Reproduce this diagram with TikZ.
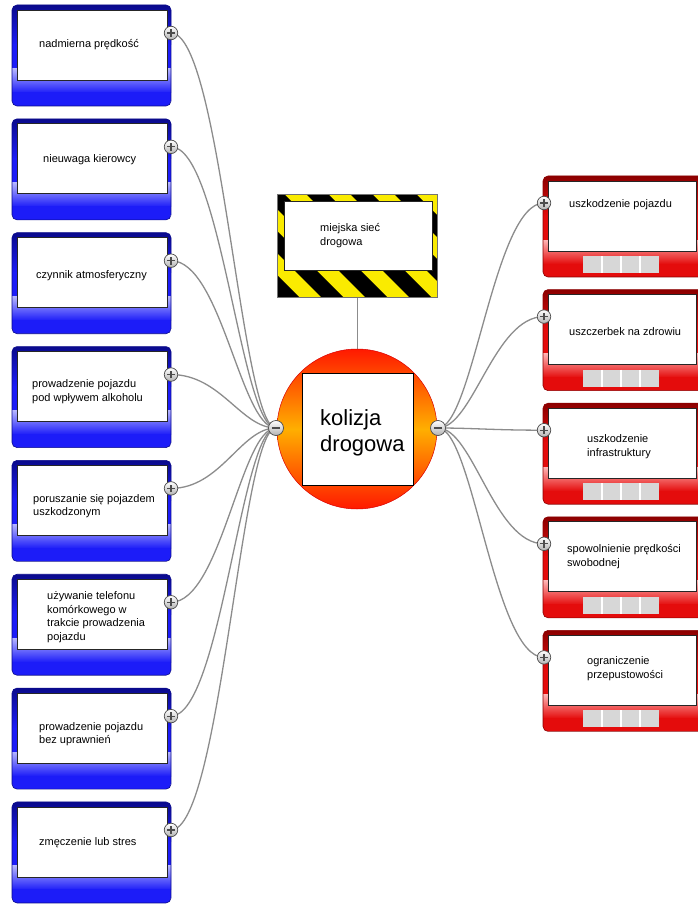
\documentclass[tikz,border=0pt]{standalone}
\usepackage{fontspec}
\setmainfont{Liberation Sans}
\pgfdeclarelayer{bg}
\pgfsetlayers{bg,main}
\definecolor{bluebox}{RGB}{28,28,248}
\definecolor{bluedark}{RGB}{10,10,140}
\definecolor{redbox}{RGB}{228,12,12}
\definecolor{reddark}{RGB}{140,0,0}
\definecolor{conn}{RGB}{140,140,140}
\definecolor{hazyellow}{RGB}{250,235,0}
\definecolor{hubred}{RGB}{255,25,0}
\definecolor{hubmid}{RGB}{255,175,0}
\definecolor{cellgray}{RGB}{215,215,215}
\tikzset{
  whitebox/.style={draw=black!85, line width=0.9pt, fill=white, inner sep=0pt, minimum height=70},
  txt/.style={font=\fontsize{11}{13.5}\selectfont, align=left, inner sep=0pt, anchor=west},
  iconbase/.style={circle, draw=black!70, line width=0.7pt, top color=white, bottom color=black!30, minimum size=13.5, inner sep=0pt},
  plusicon/.style={iconbase, path picture={
      \draw[line width=1.2pt] ([xshift=-3.8pt]path picture bounding box.center) -- ([xshift=3.8pt]path picture bounding box.center);
      \draw[line width=1.2pt] ([yshift=-3.8pt]path picture bounding box.center) -- ([yshift=3.8pt]path picture bounding box.center);}},
  minusicon/.style={iconbase, minimum size=15, path picture={
      \draw[line width=1.3pt] ([xshift=-4.2pt]path picture bounding box.center) -- ([xshift=4.2pt]path picture bounding box.center);}},
  connector/.style={draw=conn, line width=1.3pt},
}
\newcommand\causebox[2]{%
  \begin{scope}
    \clip[rounded corners=5pt] (12,#2) rectangle (171,#2+101);
    \shade[top color=bluedark, bottom color=bluebox] (12,#2) rectangle (171,#2+40);
    \fill[bluebox] (12,#2+39.5) rectangle (171,#2+64.5);
    \shade[top color=blue!30!white, bottom color=bluebox] (12,#2+64) rectangle (171,#2+88);
    \fill[bluebox] (12,#2+87.5) rectangle (171,#2+101);
  \end{scope}
  \draw[rounded corners=5pt, draw=bluedark, line width=0.6pt] (12,#2) rectangle (171,#2+101);
  \node[whitebox, minimum width=150] (c#1) at (92,#2+40) {};
  \node[plusicon] (lp#1) at (171,#2+28) {};
}
\newcommand\effectbox[2]{%
  \begin{scope}
    \clip[rounded corners=5pt] (543,#2) rectangle (703,#2+101);
    \shade[top color=reddark, bottom color=redbox] (543,#2) rectangle (703,#2+40);
    \fill[redbox] (543,#2+39.5) rectangle (703,#2+64.5);
    \shade[top color=red!30!white, bottom color=redbox] (543,#2+64) rectangle (703,#2+88);
    \fill[redbox] (543,#2+87.5) rectangle (703,#2+101);
  \end{scope}
  \draw[rounded corners=5pt, draw=reddark, line width=0.6pt] (543,#2) rectangle (703,#2+101);
  \node[whitebox, minimum width=148] (e#1) at (622,#2+40) {};
  \fill[cellgray] (583,#2+80) rectangle (659,#2+97);
  \foreach \cx in {602,621,640} {\draw[white, line width=1.4pt] (\cx,#2+80) -- (\cx,#2+97);}
  \node[plusicon] (rp#1) at (544,#2+27) {};
}
\begin{document}
\begin{tikzpicture}[x=1pt, y=-1pt]
\begin{pgfonlayer}{bg}
  \fill[white] (0,0) rectangle (698,904);
\end{pgfonlayer}
\useasboundingbox (0,0) rectangle (698,904);

% left boxes
\foreach \n/\t in {1/5, 2/118.85, 3/232.7, 4/346.55, 5/460.4, 6/574.25, 7/688.1, 8/801.95} {\causebox{\n}{\t}}
% right boxes
\foreach \n/\t in {1/176, 2/289.6, 3/403.2, 4/516.8, 5/630.4} {\effectbox{\n}{\t}}

% left texts
\node[txt] (t1) at (39,45) {nadmierna prędkość};
\node[txt] (t2) at (43,160) {nieuwaga kierowcy};
\node[txt] (t3) at (36,276) {czynnik atmosferyczny};
\node[txt] (t4) at (32,391.5) {prowadzenie pojazdu\\pod wpływem alkoholu};
\node[txt] (t5) at (33,506) {poruszanie się pojazdem\\uszkodzonym};
\node[txt] (t6) at (47,617) {używanie telefonu\\komórkowego w\\trakcie prowadzenia\\pojazdu};
\node[txt] (t7) at (39,734) {prowadzenie pojazdu\\bez uprawnień};
\node[txt] (t8) at (39,843) {zmęczenie lub stres};
% right texts
\node[txt] (r1) at (569,205) {uszkodzenie pojazdu};
\node[txt] (r2) at (569,332) {uszczerbek na zdrowiu};
\node[txt] (r3) at (587,446.5) {uszkodzenie\\infrastruktury};
\node[txt] (r4) at (567,556.5) {spowolnienie prędkości\\swobodnej};
\node[txt] (r5) at (587,668.5) {ograniczenie\\przepustowości};

% hazard box
\begin{scope}
  \clip (277,194) rectangle (437,297);
  \fill[hazyellow] (277,194) rectangle (437,297);
  \foreach \x in {130,174,...,480} {\fill[black] (\x,194) -- (\x+22,194) -- (\x+125,297) -- (\x+103,297) -- cycle;}
\end{scope}
\node[draw=black!55, line width=0.6pt, minimum width=160, minimum height=103, inner sep=0pt] (haz) at (357,245.5) {};
\node[draw=black!85, line width=0.9pt, fill=white, minimum width=148, minimum height=69, inner sep=0pt] (hazin) at (358,235.5) {};
\node[txt] (hazt) at (320,235.5) {miejska sieć\\drogowa};

% hub
\node[circle, minimum size=160, inner sep=0pt, top color=hubred, bottom color=hubred, middle color=hubmid, draw=red!85!black, line width=0.5pt] (hub) at (357,429) {};
\node[draw=black, line width=1pt, fill=white, minimum width=111, minimum height=112, inner sep=0pt] (hubsq) at (357.5,429) {};
\node[font=\fontsize{22}{26}\selectfont, align=left, inner sep=0pt, anchor=west] (hubt) at (320,433) {kolizja\\drogowa};
\node[minusicon] (lm) at (276,428) {};
\node[minusicon] (rm) at (438,428) {};

\begin{pgfonlayer}{bg}
  \draw[draw=conn, line width=1pt] (haz.south) -- (hub.north);
  \foreach \i in {1,...,8} {\draw[connector] (lm.center) .. controls +(-35,0) and +(50,0) .. (lp\i.center);}
  \foreach \i in {1,...,5} {\draw[connector] (rm.center) .. controls +(35,0) and +(-50,0) .. (rp\i.center);}
\end{pgfonlayer}
\end{tikzpicture}
\end{document}
